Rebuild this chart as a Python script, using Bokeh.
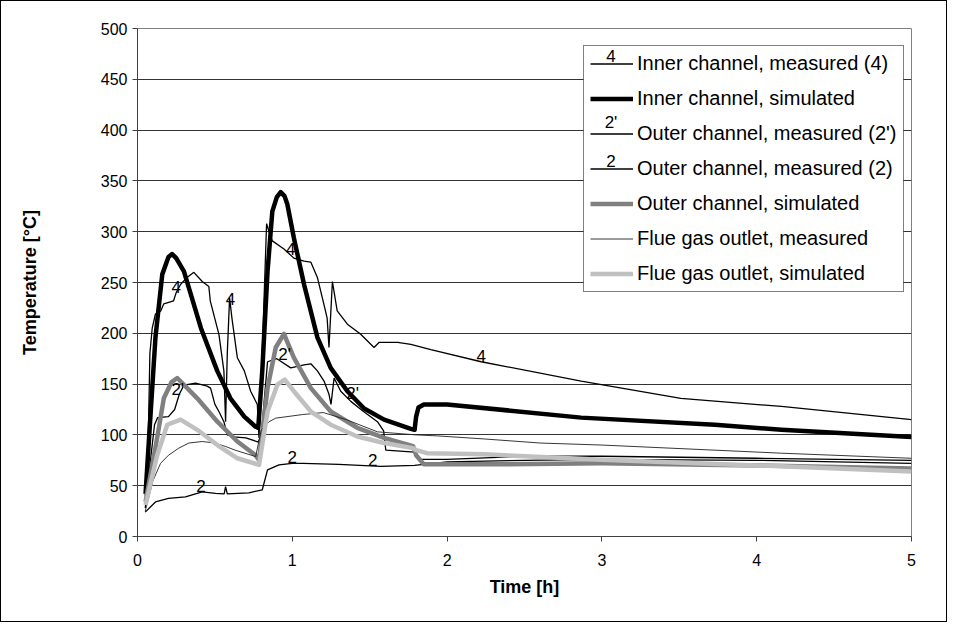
import numpy as np
from bokeh.plotting import figure
from bokeh.models import Range1d, Legend, LegendItem, FixedTicker
from bokeh.core.properties import value
from bokeh.embed import file_html
from bokeh.resources import INLINE

FONT = "Liberation Sans"

# ---- data (time [h], temperature [°C]) ----
t_in_meas = [0.05, 0.07, 0.08, 0.095, 0.116, 0.15, 0.17, 0.233, 0.25, 0.278, 0.32, 0.364, 0.418, 0.461,
             0.47, 0.526, 0.558, 0.569, 0.58, 0.595, 0.61, 0.645, 0.69, 0.731, 0.774, 0.785, 0.81, 0.834,
             0.85, 0.871, 0.946, 1.01, 1.076, 1.12, 1.162, 1.205, 1.225, 1.237, 1.259, 1.29, 1.356, 1.442,
             1.528, 1.56, 1.68, 1.766, 1.895, 2.22, 2.866, 3.51, 4.16, 5.0]
T_in_meas = [40, 100, 180, 205, 219, 222, 229, 232, 240, 248, 255, 260, 251, 246,
             232, 199, 163, 113, 180, 235, 215, 176, 163, 143, 130, 97, 200, 308,
             300, 291, 283, 274, 271, 270, 255, 228, 215, 186, 251, 222, 209, 199,
             186, 191, 191, 189, 184, 172, 153, 136, 128, 115]

t_in_sim = [0.052, 0.08, 0.116, 0.16, 0.2, 0.224, 0.25, 0.30, 0.41, 0.515, 0.60, 0.69, 0.763, 0.78,
            0.806, 0.84, 0.871, 0.9, 0.925, 0.95, 0.968, 1.01, 1.076, 1.162, 1.248, 1.356, 1.464,
            1.593, 1.766, 1.79, 1.80, 1.815, 1.85, 2.0, 2.866, 3.73, 4.16, 5.0]
T_in_sim = [42, 110, 196, 258, 275, 278, 274, 261, 205, 163, 136, 118, 108, 107,
            163, 261, 320, 334, 339, 335, 327, 294, 248, 196, 166, 143, 126,
            115, 106, 105, 118, 127, 130, 130, 117, 110, 105, 98]

t_out_meas2p = [0.05, 0.08, 0.11, 0.13, 0.2, 0.24, 0.27, 0.3, 0.375, 0.45, 0.472, 0.5, 0.526, 0.558,
                0.58, 0.62, 0.7, 0.78, 0.80, 0.84, 0.9, 0.99, 1.076, 1.12, 1.162, 1.205, 1.237, 1.25,
                1.27, 1.313, 1.378, 1.46, 1.55, 1.59, 1.604, 1.79, 1.82, 2.0, 2.5, 3.0, 4.0, 5.0]
T_out_meas2p = [28, 70, 110, 117, 118, 125, 140, 149, 151, 148, 146, 130, 123, 113,
                100, 98, 97, 93, 100, 172, 175, 166, 169, 170, 163, 153, 140, 130,
                156, 143, 133, 123, 113, 104, 85, 83, 76, 76, 79, 79, 77, 75]

t_out_meas2 = [0.05, 0.116, 0.2, 0.31, 0.418, 0.504, 0.56, 0.569, 0.58, 0.72, 0.806, 0.84, 0.914, 1.0,
               1.07, 1.3, 1.572, 1.79, 2.0, 2.5, 3.0, 4.0, 5.0]
T_out_meas2 = [24, 34, 37.5, 39, 44, 42.5, 42, 49, 42, 43, 46, 65.5, 70.5, 72,
               72, 71, 69, 70, 73.5, 75, 76, 75, 72]

t_out_sim = [0.052, 0.127, 0.17, 0.22, 0.257, 0.386, 0.516, 0.645, 0.763, 0.785, 0.84, 0.893, 0.946,
             1.01, 1.12, 1.248, 1.42, 1.593, 1.78, 1.80, 1.85, 2.24, 3.0, 4.0, 5.0]
T_out_sim = [34, 97, 136, 152, 156, 136, 113, 93.5, 80, 75, 146, 186, 199.5,
             176, 146, 123, 107, 97, 89, 80, 71, 71, 72, 70, 67]

t_flue_meas = [0.05, 0.1, 0.149, 0.2, 0.267, 0.332, 0.418, 0.5, 0.569, 0.63, 0.763, 0.8, 0.85, 0.893,
               1.065, 1.2, 1.35, 1.55, 1.8, 1.94, 2.24, 2.6, 3.0, 4.16, 5.0]
T_flue_meas = [25, 55, 72, 80, 87, 92, 93.5, 92, 88.6, 85, 78.7, 105, 113, 116.5,
               120, 122, 115, 103, 100, 99, 96, 92, 90, 82, 77]

t_flue_sim = [0.052, 0.127, 0.192, 0.278, 0.386, 0.516, 0.645, 0.785, 0.84, 0.904, 0.951, 1.01, 1.12,
              1.248, 1.42, 1.593, 1.78, 1.80, 1.87, 2.24, 2.54, 3.0, 4.0, 5.0]
T_flue_sim = [31, 80, 110, 115, 105, 90, 77, 70.5, 123, 149.5, 154.4, 143, 123,
              110, 98.4, 92, 87, 85, 82, 81, 78.7, 75.5, 70, 64]

# positions (time) of the text markers along the measured curves
mark4_t = [0.25, 0.60, 0.99, 2.22]
mark2p_t = [0.26, 0.95, 1.39]
mark2_t = [0.41, 1.0, 1.52]

legend_labels = ["Inner channel, measured (4)", "Inner channel, simulated",
                 "Outer channel, measured (2')", "Outer channel, measured (2)",
                 "Outer channel, simulated", "Flue gas outlet, measured",
                 "Flue gas outlet, simulated"]
legend_marks = ["4", None, "2'", "2", None, None, None]

x_ticks = [0, 1, 2, 3, 4, 5]
y_ticks = list(range(0, 501, 50))

X_MAX, Y_MAX = 5, 500

# ---- figure ----
W, H = 947, 622
BL, BR, BT, BB = 136, 37, 27, 87
p = figure(width=W, height=H, output_backend="svg", toolbar_location=None,
           x_range=Range1d(0, X_MAX), y_range=Range1d(0, Y_MAX),
           min_border_left=BL, min_border_right=BR, min_border_top=BT, min_border_bottom=BB)
p.styles = {"border": "1px solid #000000", "box-sizing": "border-box"}
p.background_fill_color = "white"
p.border_fill_color = "white"
p.outline_line_color = "#808080"
p.outline_line_width = 1

p.xgrid.visible = False
p.ygrid.ticker = FixedTicker(ticks=y_ticks)
p.ygrid.grid_line_color = "#333333"
p.ygrid.grid_line_width = 1

for ax in (p.xaxis[0], p.yaxis[0]):
    ax.axis_line_color = "#404040"
    ax.major_tick_line_color = "#404040"
    ax.minor_tick_line_color = None
    ax.major_tick_in = 0
    ax.major_tick_out = 5
    ax.major_label_text_font = FONT
    ax.major_label_text_font_size = "16px"
    ax.major_label_text_color = "black"
    ax.axis_label_text_font = FONT
    ax.axis_label_text_font_size = "18px"
    ax.axis_label_text_font_style = "bold"
    ax.axis_label_text_color = "black"

p.xaxis.ticker = FixedTicker(ticks=x_ticks)
p.yaxis.ticker = FixedTicker(ticks=y_ticks)
p.xaxis.axis_label = "Time [h]"
p.yaxis.axis_label = "Temperature [°C]"
p.xaxis.major_label_standoff = 12
p.yaxis.major_label_standoff = 5
p.xaxis.axis_label_standoff = 8
p.yaxis.axis_label_standoff = 58

# ---- legend geometry (screen px relative to the frame) ----
frame_w = W - BL - BR
frame_h = H - BT - BB
LEG_X, LEG_BOTTOM, LEG_W = 446, 244, 320
PAD, GW, GH, SP = 6, 43, 23, 12
n = len(legend_labels)
leg_height = 2 * PAD + n * GH + (n - 1) * SP
leg_top = LEG_BOTTOM + leg_height
sx2d = X_MAX / frame_w
sy2d = Y_MAX / frame_h

# white legend background, drawn above the grid
p.quad(left=[LEG_X * sx2d], right=[(LEG_X + LEG_W) * sx2d],
       bottom=[LEG_BOTTOM * sy2d], top=[leg_top * sy2d],
       fill_color="white", line_color=None)

# ---- series (Excel series order) ----
r1 = p.line(t_in_meas, T_in_meas, line_color="black", line_width=1.3)
r2 = p.line(t_in_sim, T_in_sim, line_color="black", line_width=4.5, line_join="round")
r3 = p.line(t_out_meas2p, T_out_meas2p, line_color="black", line_width=1.3)
r4 = p.line(t_out_meas2, T_out_meas2, line_color="black", line_width=1.3)
r5 = p.line(t_out_sim, T_out_sim, line_color="#808080", line_width=4.5, line_join="round")
r6 = p.line(t_flue_meas, T_flue_meas, line_color="#202020", line_width=0.9)
r7 = p.line(t_flue_sim, T_flue_sim, line_color="#c0c0c0", line_width=4.5, line_join="round")

for ts, (sx, sy), txt in [(mark4_t, (t_in_meas, T_in_meas), "4"),
                          (mark2p_t, (t_out_meas2p, T_out_meas2p), "2'"),
                          (mark2_t, (t_out_meas2, T_out_meas2), "2")]:
    ys = list(np.interp(ts, sx, sy))
    p.text(x=ts, y=ys, text=[txt] * len(ts), text_font=value(FONT), text_font_size="17px",
           text_align="center", text_baseline="bottom", text_color="black", y_offset=0)

# digit markers on the legend's sample lines
lx, ly, lt = [], [], []
for i, m in enumerate(legend_marks):
    if m is None:
        continue
    yc = leg_top - PAD - i * (GH + SP) - GH / 2
    lx.append((LEG_X + PAD + GW / 2) * sx2d)
    ly.append(yc * sy2d)
    lt.append(m)
p.text(x=lx, y=ly, text=lt, text_font=value(FONT), text_font_size="17px",
       text_align="center", text_baseline="bottom", text_color="black", y_offset=-3)

# ---- legend ----
renderers = [r1, r2, r3, r4, r5, r6, r7]
legend = Legend(items=[LegendItem(label=l, renderers=[r]) for l, r in zip(legend_labels, renderers)],
                location=(LEG_X, LEG_BOTTOM), orientation="vertical",
                label_text_font=FONT, label_text_font_size="20px", label_text_color="black",
                glyph_width=GW, glyph_height=GH, label_height=GH, spacing=SP, padding=PAD,
                margin=0, label_standoff=4, border_line_color="black", border_line_width=1,
                background_fill_alpha=0.0)
p.add_layout(legend)

open("out.html", "w").write(file_html(p, INLINE))
